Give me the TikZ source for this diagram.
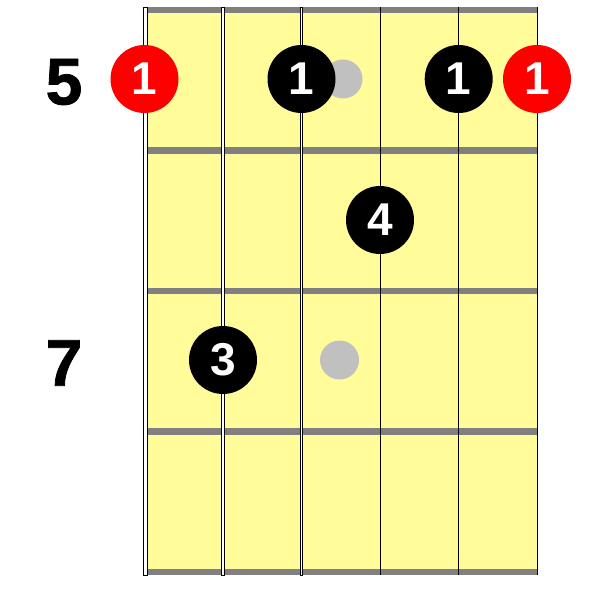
\documentclass[tikz,border=0pt]{standalone}
\usepackage{fontspec}
\setmainfont{Liberation Sans}
\newfontfamily\heavyfont[FakeBold=1.2]{Liberation Sans Bold}
\definecolor{board}{RGB}{255,252,153}
\definecolor{fretgray}{RGB}{128,128,128}
\definecolor{markgray}{RGB}{192,192,192}
\tikzset{
  finger/.style={circle, fill=black, minimum size=68pt, inner sep=0pt, text=white, font=\bfseries\fontsize{46}{46}\selectfont},
  rootdot/.style={finger, fill=red},
  marker/.style={circle, fill=markgray, minimum size=39pt, inner sep=0pt},
  fretnum/.style={font=\heavyfont\fontsize{66}{66}\selectfont, inner sep=0pt},
  fretbar/.style={draw=fretgray, line width=6.5pt},
  thickstring/.style={draw=black, fill=white, line width=0.9pt},
  thinstring/.style={draw=black, line width=1pt}
}
\begin{document}
\begin{tikzpicture}[x=1pt,y=-1pt]
\useasboundingbox (0,0) rectangle (609,609);
% board
\fill[board] (144,7) rectangle (537.5,575);
% frets
\foreach \y in {10,150.5,291,431.5,572}
  \draw[fretbar] (144,\y) -- (537.5,\y);
% strings
\draw[thickstring] (143.6,7) rectangle (147.6,575);
\draw[thickstring] (221.2,7) rectangle (224.8,575);
\draw[thickstring] (300.2,7) rectangle (302.8,575);
\draw[thinstring] (380,7) -- (380,575);
\draw[thinstring] (458.7,7) -- (458.7,575);
\draw[thinstring] (537,7) -- (537,575);
% fret markers
\node[marker] (m5) at (343,79) {};
\node[marker] (m7) at (339.5,360) {};
% fret labels
\node[fretnum] (f5) at (64,82) {5};
\node[fretnum] (f7) at (64,363) {7};
% fingers
\node[rootdot] (r1) at (144.5,79) {1};
\node[finger] (b2) at (301.5,79) {1};
\node[finger] (b3) at (458.7,79) {1};
\node[rootdot] (r2) at (537,79) {1};
\node[finger] (b4) at (380,220) {4};
\node[finger] (b5) at (223,360) {3};
\end{tikzpicture}
\end{document}
